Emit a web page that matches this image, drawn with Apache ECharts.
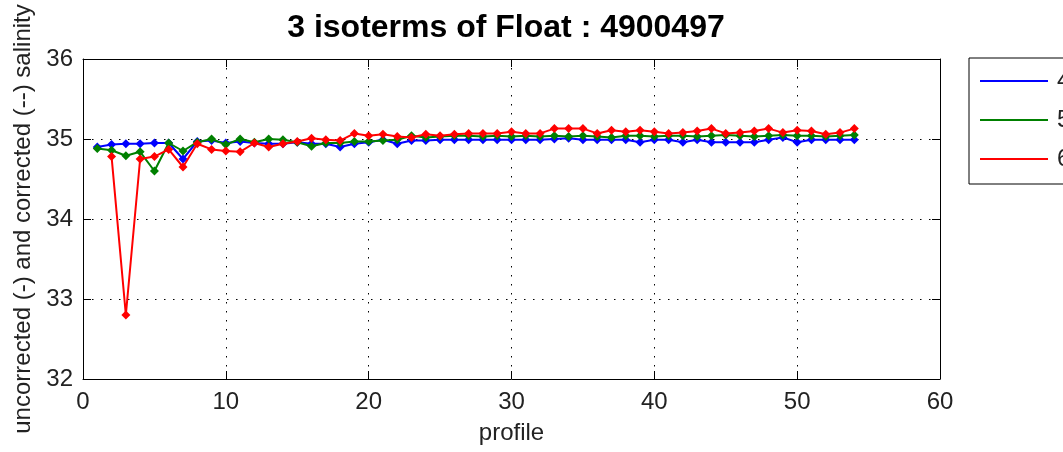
<!DOCTYPE html>
<html>
<head>
<meta charset="utf-8">
<script src="https://cdn.jsdelivr.net/npm/echarts@6/dist/echarts.min.js"></script>
<style>html,body{margin:0;padding:0;background:#fff;}#c{width:1063px;height:452px;}</style>
</head>
<body>
<div id="c"></div>
<script>
const titleText = '3 isoterms of Float : 4900497';
const xName = 'profile';
const yName = 'uncorrected (-) and corrected (--) salinity';
const seriesNames = ['4', '5', '6'];
const seriesColors = ['#0000ff', '#008000', '#ff0000'];
const xTicks = [0, 10, 20, 30, 40, 50, 60];
const yTicks = [32, 33, 34, 35, 36];

const profiles = [];
for (let i = 1; i <= 54; i++) profiles.push(i);

const blue = [34.90,34.93,34.94,34.94,34.95,34.95,34.75,34.97,34.98,34.95,
  34.97,34.95,34.94,34.94,34.96,34.94,34.94,34.90,34.94,34.96,
  34.99,34.94,34.98,34.98,34.99,34.99,34.99,34.99,34.99,34.99,
  34.99,34.99,35.00,35.01,34.99,34.99,34.99,34.99,34.96,34.99,
  34.99,34.96,34.99,34.96,34.96,34.96,34.96,34.99,35.02,34.96,
  34.99,34.99,34.99,34.99];
const green = [34.88,34.86,34.79,34.84,34.60,34.95,34.85,34.96,35.00,34.93,
  35.00,34.96,35.00,34.99,34.96,34.91,34.95,34.95,34.97,34.97,
  34.98,34.99,35.04,35.02,35.03,35.04,35.04,35.03,35.04,35.03,
  35.04,35.03,35.04,35.03,35.04,35.03,35.02,35.04,35.04,35.03,
  35.04,35.04,35.03,35.04,35.05,35.04,35.03,35.04,35.05,35.04,
  35.04,35.03,35.04,35.05];
const red = [null,34.78,32.80,34.75,34.78,34.87,34.65,34.94,34.87,34.85,
  34.84,34.95,34.90,34.94,34.97,35.01,34.99,34.98,35.07,35.04,
  35.06,35.03,35.02,35.06,35.04,35.06,35.07,35.07,35.07,35.09,
  35.07,35.07,35.13,35.13,35.13,35.07,35.11,35.09,35.11,35.09,
  35.07,35.08,35.10,35.13,35.07,35.08,35.10,35.13,35.08,35.11,
  35.10,35.06,35.08,35.13];

const seriesValues = [blue, green, red];
const font = 'Liberation Sans';
const txt = '#222';

const chart = echarts.init(document.getElementById('c'));
const grid = {left: 83, right: 123, top: 59, bottom: 73, show: false};
const gridLine = {show: true, lineStyle: {color: '#000', width: 1, type: [1.5, 7.5]}};

chart.setOption({
  animation: false,
  backgroundColor: '#fff',
  title: {
    text: titleText, left: 501, top: 7, textAlign: 'center',
    textStyle: {fontFamily: font, fontSize: 32, fontWeight: 'bold', color: '#000'}
  },
  legend: {
    orient: 'vertical', left: 969, top: 58,
    padding: [11, 14, 13, 11],
    itemWidth: 68, itemHeight: 2, itemGap: 15,
    icon: 'rect',
    borderColor: '#000', borderWidth: 1,
    textStyle: {fontFamily: font, fontSize: 24, color: txt, lineHeight: 24, padding: [0, 0, 0, 4]},
    data: seriesNames.map((n, i) => ({name: n, itemStyle: {color: seriesColors[i]}}))
  },
  grid: grid,
  xAxis: [{
    type: 'value', min: xTicks[0], max: xTicks[xTicks.length - 1], interval: 10,
    name: xName, nameLocation: 'middle', nameGap: 42,
    nameTextStyle: {fontFamily: font, fontSize: 24, color: txt},
    axisLine: {show: true, onZero: false, lineStyle: {color: '#000', width: 1}},
    axisTick: {show: true, inside: true, length: 8, lineStyle: {color: '#000'}},
    axisLabel: {fontFamily: font, fontSize: 24, color: txt, margin: 11},
    splitLine: gridLine
  }, {
    type: 'value', position: 'top', min: xTicks[0], max: xTicks[xTicks.length - 1], interval: 10,
    axisLine: {show: true, onZero: false, lineStyle: {color: '#000', width: 1}},
    axisTick: {show: true, inside: true, length: 8, lineStyle: {color: '#000'}},
    axisLabel: {show: false}, splitLine: {show: false}
  }],
  yAxis: [{
    type: 'value', min: yTicks[0], max: yTicks[yTicks.length - 1], interval: 1,
    name: yName, nameLocation: 'middle', nameGap: 44, nameRotate: 90,
    nameTextStyle: {fontFamily: font, fontSize: 24, color: txt},
    axisLine: {show: true, onZero: false, lineStyle: {color: '#000', width: 1}},
    axisTick: {show: true, inside: true, length: 8, lineStyle: {color: '#000'}},
    axisLabel: {fontFamily: font, fontSize: 24, color: txt, margin: 10},
    splitLine: gridLine
  }, {
    type: 'value', position: 'right', min: yTicks[0], max: yTicks[yTicks.length - 1], interval: 1,
    axisLine: {show: true, onZero: false, lineStyle: {color: '#000', width: 1}},
    axisTick: {show: true, inside: true, length: 8, lineStyle: {color: '#000'}},
    axisLabel: {show: false}, splitLine: {show: false}
  }],
  series: seriesNames.map((n, i) => ({
    name: n, type: 'line', xAxisIndex: 0, yAxisIndex: 0,
    data: profiles.map((p, k) => [p, seriesValues[i][k]]),
    connectNulls: false,
    symbol: 'diamond', symbolSize: 9, showSymbol: true,
    lineStyle: {color: seriesColors[i], width: 2},
    itemStyle: {color: seriesColors[i]},
    z: 2 + i
  }))
});
</script>
</body>
</html>
